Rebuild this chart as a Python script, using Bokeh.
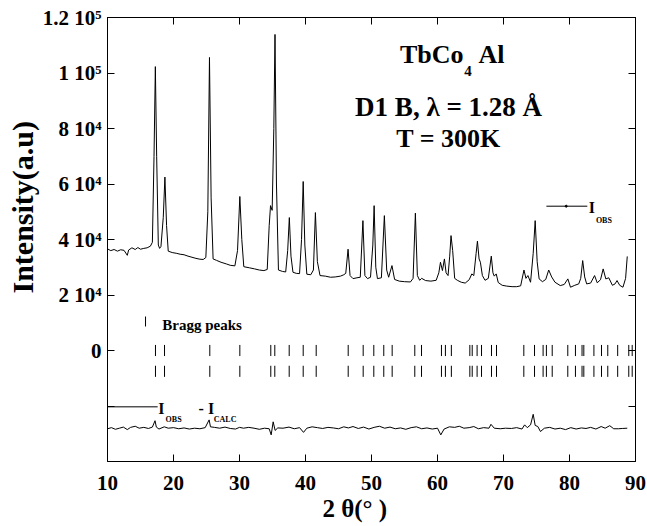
from bokeh.plotting import figure
from bokeh.models import LinearAxis, FixedTicker, Range1d, Title
from bokeh.core.properties import value
from bokeh.embed import file_html
from bokeh.resources import INLINE

# ---------------- data ----------------
two_theta_obs = [
    10.0, 10.5, 11.0, 11.5, 12.0, 12.5, 13.0, 13.2, 13.7, 14.2, 14.6, 15.0, 15.5, 16.0, 16.5, 16.8,
    17.05, 17.25, 17.45, 17.7, 17.9, 18.1, 18.45, 18.7, 18.95, 19.2, 19.8, 20.5, 21.0, 21.6, 22.2,
    22.8, 23.4, 24.0, 24.5, 24.9, 25.2, 25.45, 25.7, 26.0, 26.5, 27.2, 28.0, 28.6, 29.3, 29.7, 30.05,
    30.35, 30.65, 31.5, 32.3, 33.0, 33.7, 34.2, 34.5, 34.7, 34.95, 35.2, 35.38, 35.6, 35.9, 36.5,
    37.0, 37.3, 37.55, 37.8, 38.1, 38.6, 39.1, 39.4, 39.65, 39.9, 40.2, 40.8, 41.2, 41.5, 41.8, 42.2,
    43.0, 43.8, 44.5, 45.3, 45.8, 46.1, 46.45, 46.75, 47.2, 47.8, 48.3, 48.7, 49.0, 49.4, 49.85, 50.2,
    50.4, 50.65, 50.9, 51.5, 51.95, 52.3, 52.6, 53.1, 53.5, 54.2, 55.0, 55.9, 56.3, 56.65, 56.95,
    57.3, 57.6, 58.2, 59.0, 59.8, 60.2, 60.45, 60.75, 61.05, 61.3, 61.6, 61.85, 62.05, 62.3, 62.6,
    63.0, 63.6, 64.2, 64.8, 65.2, 65.5, 65.85, 66.05, 66.3, 66.5, 66.8, 67.2, 67.7, 68.15, 68.4,
    68.6, 68.9, 69.2, 69.8, 70.5, 71.3, 72.0, 72.6, 73.1, 73.4, 73.7, 74.1, 74.5, 74.8, 75.1, 75.4,
    75.9, 76.4, 76.85, 77.3, 77.8, 78.6, 79.2, 79.75, 80.15, 80.8, 81.4, 81.7, 82.0, 82.3, 82.6,
    83.2, 83.8, 84.2, 84.7, 85.1, 85.5, 85.95, 86.5, 86.9, 87.2, 87.6, 88.1, 88.5, 88.75,
]
intensity_obs = [
    36600, 36000, 36400, 35800, 36300, 36100, 34300, 36200, 37000, 36400, 37100, 36500, 36800, 37000, 37600, 39000,
    70000, 102300, 70000, 38000, 36800, 37500, 48000, 62500, 45000, 35800, 35300, 35000, 34700, 34500, 34000,
    33600, 33200, 32900, 32800, 33500, 50000, 105600, 55000, 33000, 32500, 31800, 31200, 30700, 30500, 36000, 55500,
    40000, 30200, 29800, 29400, 29000, 28800, 29200, 45000, 52200, 50500, 80000, 113900, 60000, 29000, 28500,
    28300, 36000, 47900, 34000, 28200, 27800, 27700, 40000, 60900, 38000, 27500, 27300, 29000, 49700, 32000, 27000,
    26800, 26400, 26500, 26800, 27300, 27800, 36500, 27000, 25900, 26200, 26400, 46800, 27000, 25900, 26400, 38000,
    52200, 30000, 25900, 26200, 48600, 29000, 26400, 30600, 25600, 25000, 24800, 24700, 26000, 49500, 27000,
    25300, 26000, 25200, 25000, 25300, 28000, 31800, 28800, 33000, 28000, 27000, 34000, 41400, 36000, 26000,
    25300, 24600, 24300, 25500, 27600, 27000, 35000, 39400, 33000, 31800, 27000, 25300, 26000, 34000, 28000,
    26800, 27600, 24500, 23500, 23200, 23000, 23000, 23300, 29000, 26000, 27000, 24600, 35000, 46800, 32000, 25800,
    24800, 25600, 29000, 26500, 24600, 23400, 23800, 25800, 22800, 23500, 24000, 26000, 32400, 26500, 24000,
    24300, 27000, 24400, 25500, 29400, 25800, 26200, 23500, 24000, 25200, 23500, 22800, 26000, 33900,
]

two_theta_diff = [
    10.0, 10.6, 11.2, 11.8, 12.4, 13.0, 13.5, 14.2, 14.8, 15.5, 16.2, 16.8, 17.2, 17.4, 17.8, 18.6,
    19.2, 20.0, 20.8, 21.6, 22.4, 23.2, 24.0, 24.8, 25.4, 25.6, 26.2, 27.0, 27.8, 28.6, 29.4, 30.0,
    30.6, 31.4, 32.2, 33.0, 33.8, 34.5, 34.8, 35.1, 35.4, 35.8, 36.6, 37.5, 38.3, 39.1, 39.7, 40.2,
    41.0, 41.8, 42.6, 43.4, 44.2, 45.0, 45.8, 46.5, 47.2, 48.0, 48.8, 49.6, 50.4, 51.2, 52.0, 52.8,
    53.6, 54.4, 55.2, 56.0, 56.8, 57.6, 58.4, 59.2, 60.0, 60.5, 61.0, 61.8, 62.6, 63.3, 64.0, 64.8,
    65.5, 66.2, 67.0, 67.8, 68.1, 68.6, 69.5, 70.3, 71.2, 72.0, 72.8, 73.2, 73.6, 74.1, 74.5, 74.8,
    75.2, 75.6, 76.2, 77.0, 77.8, 78.6, 79.4, 80.2, 81.0, 81.8, 82.5, 83.2, 84.0, 84.8, 85.4, 86.1,
    86.7, 87.4, 88.0, 88.75,
]
intensity_diff = [
    -28200, -27800, -28400, -28000, -27600, -28500, -27700, -27300, -28000, -27700, -28100, -27600, -25300, -27600, -28300, -27500,
    -28000, -27800, -28200, -27900, -28300, -28000, -28200, -27800, -25000, -27500, -27700, -28000, -27600, -28100, -28300, -27700,
    -28000, -27700, -28000, -28400, -28000, -28200, -30400, -25700, -28800, -27900, -28000, -27600, -28200, -27800, -29500, -28000,
    -27500, -27800, -28100, -27700, -27900, -28200, -27500, -27900, -27400, -28100, -27600, -28300, -27700, -27300, -28000, -27600,
    -28200, -27900, -28400, -27800, -27500, -28200, -27900, -28300, -28000, -30400, -28300, -27500, -27700, -27300, -28000, -27800,
    -27400, -28200, -27800, -28000, -26600, -28000, -28200, -28000, -28100, -27800, -28300, -26800, -27800, -26800, -23000, -27000,
    -27400, -29200, -28000, -27700, -28300, -28000, -28500, -27800, -28300, -27900, -28100, -27700, -28300, -27400, -28000, -27100,
    -28200, -28200, -28100, -28000,
]

bragg_positions = [
    17.27, 18.64, 25.5, 30.05, 34.74, 35.35, 37.53, 39.65, 41.62, 46.47, 48.74, 50.35, 51.86, 53.13,
    56.56, 57.58, 60.6, 61.2, 62.1, 64.9, 65.26, 66.0, 66.67, 68.18, 68.94, 73.08, 74.7, 76.0, 76.5,
    77.38, 79.74, 80.9, 81.9, 82.17, 83.7, 84.85, 85.8, 87.3, 88.98, 89.5,
]

x_ticks = [10, 20, 30, 40, 50, 60, 70, 80, 90]
y_ticks = [-20000, 0, 20000, 40000, 60000, 80000, 100000, 120000]
y_tick_labels = ["", "0", "2 10\u2074", "4 10\u2074", "6 10\u2074", "8 10\u2074", "1 10\u2075", "1.2 10\u2075"]

FONT = "Liberation Serif"

p = figure(
    width=647, height=526,
    x_range=Range1d(10, 90), y_range=Range1d(-40000, 120000),
    output_backend="svg", toolbar_location=None,
    min_border_left=107, min_border_right=12, min_border_top=17, min_border_bottom=65,
)
p.grid.visible = False
p.outline_line_color = "black"
p.outline_line_width = 1
p.background_fill_color = "white"
p.border_fill_color = "white"

bottom_axis = p.below[0]
left_axis = p.left[0]
top_axis = LinearAxis()
right_axis = LinearAxis()
p.add_layout(top_axis, "above")
p.add_layout(right_axis, "right")

for ax in [bottom_axis, top_axis]:
    ax.ticker = FixedTicker(ticks=x_ticks)
for ax in [left_axis, right_axis]:
    ax.ticker = FixedTicker(ticks=y_ticks)

left_axis.major_label_overrides = {t: l for t, l in zip(y_ticks, y_tick_labels)}

for ax in [bottom_axis, left_axis, top_axis, right_axis]:
    ax.major_tick_in = 7
    ax.major_tick_out = 0
    ax.minor_tick_line_color = None
    ax.axis_line_color = "black"
    ax.major_tick_line_color = "black"
    ax.major_label_text_font = FONT
    ax.major_label_text_font_style = "bold"
    ax.major_label_text_color = "black"
    ax.major_label_text_font_size = "21px"

for ax in [top_axis, right_axis]:
    ax.major_label_text_color = None
    ax.major_label_text_font_size = "1px"
    ax.major_label_standoff = 0

bottom_axis.major_label_standoff = 14
left_axis.major_label_standoff = 6

# axis titles (offset from the frame centre as in the reference)
p.add_layout(Title(text="Intensity(a.u)", align="left", offset=168, standoff=1,
                   text_font=FONT, text_font_style="bold", text_font_size="30px",
                   text_color="black"), "left")
p.add_layout(Title(text="2 \u03b8(\u00b0 )", align="left", offset=215, standoff=0,
                   text_font=FONT, text_font_style="bold", text_font_size="25px",
                   text_color="black"), "below")

# observed pattern and difference curve
p.line(two_theta_obs, intensity_obs, line_color="black", line_width=1)
p.line(two_theta_diff, intensity_diff, line_color="black", line_width=1)

# Bragg reflection markers (two rows)
row1_y0, row1_y1 = -2000, 2000
row2_y0, row2_y1 = -9500, -5500
p.segment(x0=bragg_positions, y0=[row1_y0] * len(bragg_positions),
          x1=bragg_positions, y1=[row1_y1] * len(bragg_positions), line_color="black", line_width=1)
p.segment(x0=bragg_positions, y0=[row2_y0] * len(bragg_positions),
          x1=bragg_positions, y1=[row2_y1] * len(bragg_positions), line_color="black", line_width=1)


def txt(x, y, s, size, align="left"):
    p.text(x=[x], y=[y], text=[s], text_font=value(FONT), text_font_style="bold",
           text_color="black", text_baseline="alphabetic", text_align=align,
           text_font_size=f"{size}px", y_offset=-round(0.3 * size))


# legend: Bragg peaks
p.segment(x0=[15.76], y0=[8650], x1=[15.76], y1=[12250], line_color="black", line_width=1)
txt(18.3, 7800, "Bragg peaks", 15)

# legend: I_OBS
p.line([76.5, 82.7], [52000, 52000], line_color="black", line_width=1)
p.scatter([79.5], [52000], size=2, color="black")
txt(82.9, 49700, "I", 16)
txt(84.0, 46100, "OBS", 8)

# legend: I_OBS - I_CALC
p.line([10, 17.6], [-20300, -20300], line_color="black", line_width=1)
txt(17.7, -22700, "I", 16)
txt(18.8, -25600, "OBS", 8)
txt(23.8, -22700, "- I", 16)
txt(26.1, -25600, "CALC", 8)

# annotations
txt(63.94, 103800, "TbCo", 26, "right")
txt(64.05, 99100, "4", 15)
txt(66.2, 103800, "Al", 26)
txt(62.7, 84700, "D1 B,  \u03bb  = 1.28 \u00c5", 27, "center")
txt(61.67, 73500, "T = 300K", 26, "center")

open("out.html", "w").write(file_html(p, INLINE))
